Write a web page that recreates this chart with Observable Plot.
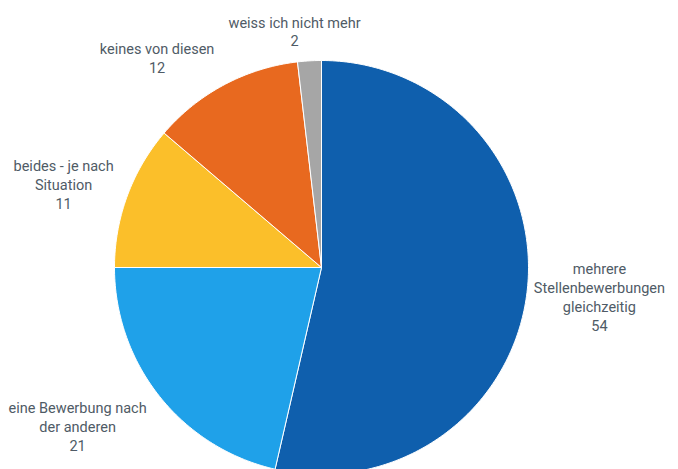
<!DOCTYPE html>
<html>
<head>
<meta charset="utf-8">
<script src="https://cdn.jsdelivr.net/npm/d3@7"></script>
<script src="https://cdn.jsdelivr.net/npm/@observablehq/plot@0.6"></script>
<style>
  html, body { margin: 0; padding: 0; background: #fff; }
</style>
</head>
<body>
<div id="chart"></div>
<script>
// Data
const categories = [
  "mehrere\nStellenbewerbungen\ngleichzeitig",
  "eine Bewerbung nach\nder anderen",
  "beides - je nach\nSituation",
  "keines von diesen",
  "weiss ich nicht mehr"
];
// shares (%); labels show them rounded
const values = [53.6, 21.4, 11.25, 11.9, 1.85];
const colors = ["#0f5fad", "#1fa1e9", "#fbbf2a", "#e8691f", "#a6a6a6"];

// Label layout (angle in degrees clockwise from top, radius relative to pie radius)
const labelAngle = [96, 237, 288, 322, 353.5];
const labelRadius = [1.35, 1.405, 1.31, 1.29, 1.15];

const W = 678, H = 469;
const cx = 321, cy = 267, R = 207;

const total = d3.sum(values);
const slices = [];
let acc = 0;
values.forEach((v, i) => {
  const a0 = acc / total * 2 * Math.PI;
  const a1 = (acc + v) / total * 2 * Math.PI;
  acc += v;
  const n = Math.max(4, Math.ceil((a1 - a0) / (Math.PI / 180)));
  slices.push({cat: categories[i], x: 0, y: 0});
  for (let k = 0; k <= n; k++) {
    const a = a0 + (a1 - a0) * k / n;
    slices.push({cat: categories[i], x: Math.sin(a), y: Math.cos(a)});
  }
  slices.push({cat: categories[i], x: 0, y: 0});
});

const labels = categories.map((c, i) => {
  const a = labelAngle[i] * Math.PI / 180;
  return {text: c + "\n" + Math.round(values[i]), x: labelRadius[i] * Math.sin(a), y: labelRadius[i] * Math.cos(a)};
});

const chart = Plot.plot({
  width: W,
  height: H,
  margin: 0,
  x: {domain: [-cx / R, (W - cx) / R], range: [0, W], axis: null},
  y: {domain: [cy / R, -(H - cy) / R], range: [0, H], axis: null},
  color: {domain: categories, range: colors},
  style: {fontFamily: "Roboto, 'Noto Sans', sans-serif", background: "#fff"},
  marks: [
    Plot.line(slices, {x: "x", y: "y", z: "cat", fill: "cat", stroke: "#fff", strokeWidth: 1, strokeLinejoin: "round", curve: "linear"}),
    Plot.text(labels, {x: "x", y: "y", text: "text", fill: "#4f5b66", fontSize: 14.5, lineHeight: 1.3, lineAnchor: "middle", textAnchor: "middle"})
  ]
});
document.getElementById("chart").appendChild(chart);
</script>
</body>
</html>
